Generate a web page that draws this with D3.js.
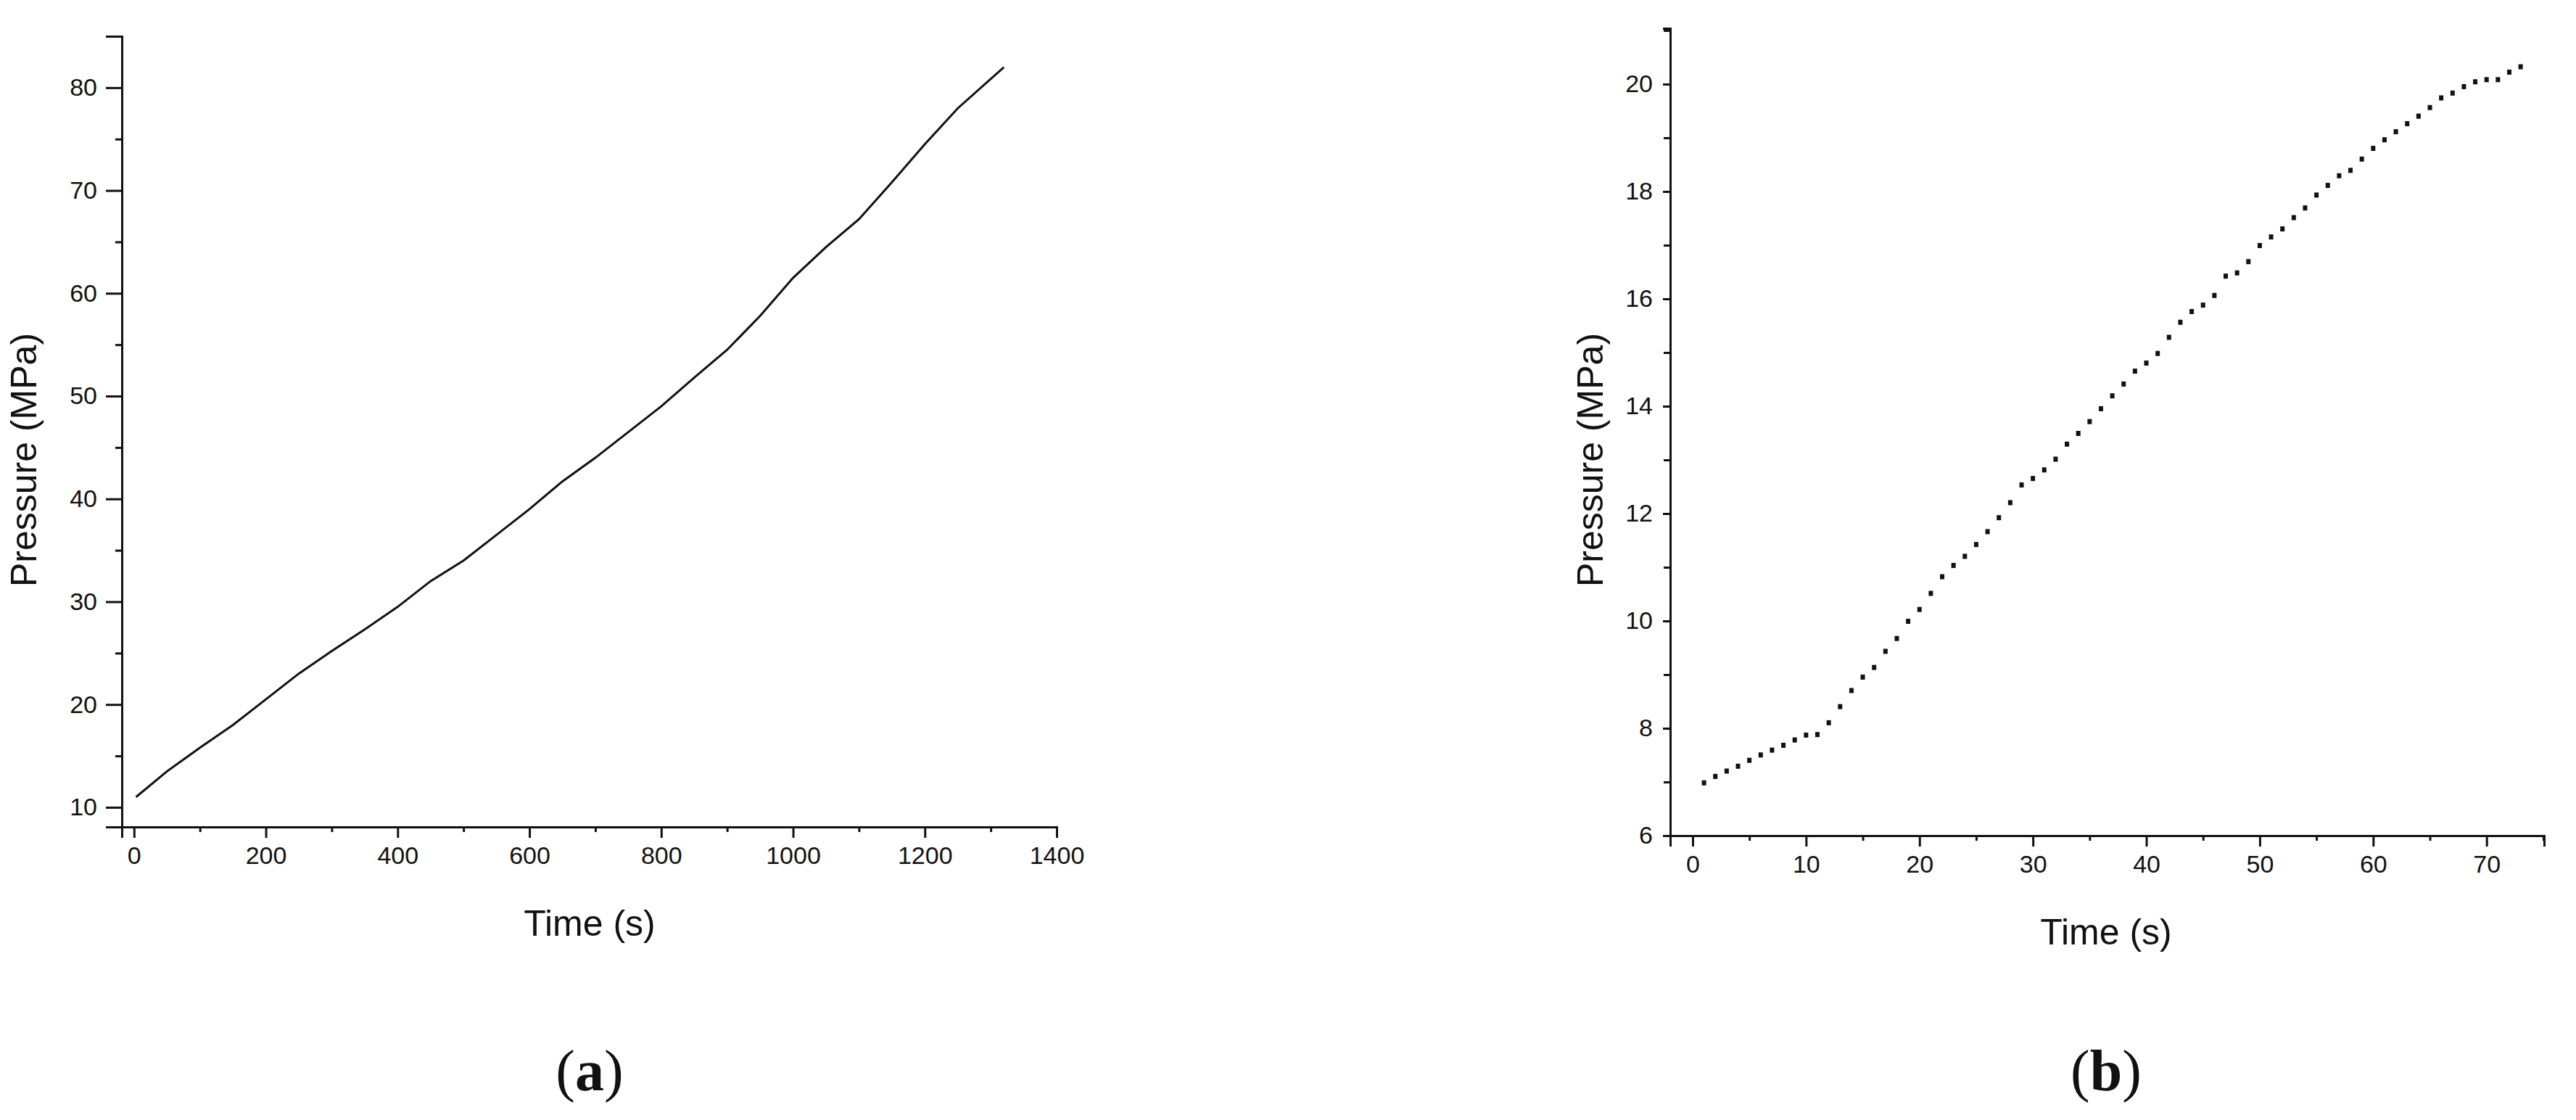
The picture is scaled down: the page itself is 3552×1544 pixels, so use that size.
<!DOCTYPE html>
<html><head><meta charset="utf-8">
<script src="https://cdn.jsdelivr.net/npm/d3@7"></script>
<style>body{margin:0;background:#fff}svg{display:block}text{font-family:"Liberation Sans",Arial,sans-serif;fill:#111}</style>
</head><body>
<svg id="c" width="3552" height="1544"></svg>
<script>
// Panel (a)
const timeA = [3,50,100,150,200,250,300,350,400,450,500,550,600,650,700,750,800,850,900,950,1000,1050,1100,1150,1200,1250,1320];
const presA = [11,13.5,15.8,18,20.5,23,25.2,27.3,29.5,32,34,36.5,39,41.7,44,46.5,49,51.8,54.5,57.8,61.5,64.5,67.2,70.8,74.5,78,82];
const xTicksA = [0,200,400,600,800,1000,1200,1400];
const yTicksA = [10,20,30,40,50,60,70,80];
// Panel (b)
const timeB = d3.range(1,74);
const presB = [6.99,7.11,7.21,7.30,7.41,7.51,7.60,7.69,7.79,7.88,7.89,8.11,8.41,8.71,8.96,9.14,9.44,9.68,10.00,10.22,10.52,10.83,11.04,11.21,11.43,11.67,11.93,12.21,12.54,12.66,12.82,13.02,13.30,13.50,13.72,13.96,14.20,14.42,14.66,14.81,14.99,15.29,15.57,15.77,15.89,16.07,16.43,16.49,16.70,17.00,17.16,17.31,17.52,17.70,17.94,18.12,18.30,18.40,18.61,18.81,18.97,19.12,19.27,19.41,19.57,19.75,19.84,19.96,20.05,20.09,20.09,20.23,20.33];
const xTicksB = [0,10,20,30,40,50,60,70];
const yTicksB = [6,8,10,12,14,16,18,20];

const svg = d3.select("#c");

function panel(o){
  const g = svg.append("g");
  const x = d3.scaleLinear().domain(o.xd).range([o.x0,o.x1]);
  const y = d3.scaleLinear().domain(o.yd).range([o.y0,o.y1]);
  const xa = d3.axisBottom(x).tickValues(o.xMinor).tickSize(7).tickFormat("");
  g.append("g").attr("transform",`translate(0,${o.y0})`).call(xa);
  const ya = d3.axisLeft(y).tickValues(o.yMinor).tickSize(9).tickFormat("");
  g.append("g").attr("transform",`translate(${o.x0},0)`).call(ya);
  const xA = d3.axisBottom(x).tickValues(o.xt).tickSize(15).tickPadding(12).tickFormat(d3.format("d"));
  g.append("g").attr("transform",`translate(0,${o.y0})`).call(xA);
  const yA = d3.axisLeft(y).tickValues(o.yt).tickSize(o.ytl).tickPadding(o.ypad).tickFormat(d3.format("d"));
  g.append("g").attr("transform",`translate(${o.x0},0)`).call(yA);
  g.selectAll(".domain").attr("stroke","#111").attr("stroke-width",3);
  g.selectAll(".tick line").attr("stroke","#111").attr("stroke-width",3);
  g.selectAll(".tick text").attr("font-size",34).attr("font-family","Liberation Sans").attr("fill","#111");
  g.append("text").attr("x",o.tx).attr("y",o.ty).attr("text-anchor","middle").attr("font-size",50).text("Time (s)");
  g.append("text").attr("transform",`translate(${o.lx},${o.ly}) rotate(-90)`).attr("text-anchor","middle").attr("font-size",50).text("Pressure (MPa)");
  g.append("text").attr("x",o.tx).attr("y",1503).attr("text-anchor","middle").attr("font-size",80)
    .style("font-family","Liberation Serif")
    .html(`(<tspan font-weight="bold">${o.cap}</tspan>)`);
  return {g,x,y};
}

const A = panel({xd:[-18.5,1400],yd:[8.09,85],x0:168,x1:1457,y0:1140,y1:50,
  xt:xTicksA,yt:yTicksA,xMinor:d3.range(100,1400,200),yMinor:d3.range(15,85,5).filter(v=>v%10),
  ytl:22,ypad:12,tx:813,ty:1290,lx:50,ly:634,cap:"a"});
A.g.append("path").datum(timeA.map((t,i)=>[t,presA[i]]))
  .attr("fill","none").attr("stroke","#111").attr("stroke-width",3)
  .attr("d",d3.line().x(d=>A.x(d[0])).y(d=>A.y(d[1])));

const B = panel({xd:[-1.98,75.07],yd:[6,21.04],x0:2303,x1:3508,y0:1152,y1:39,
  xt:xTicksB,yt:yTicksB,xMinor:d3.range(5,80,10),yMinor:d3.range(7,22,2),
  ytl:10,ypad:14,tx:2904,ty:1302,lx:2210,ly:634,cap:"b"});
B.g.selectAll("rect.pt").data(timeB.map((t,i)=>[t,presB[i]])).join("rect")
  .attr("class","pt").attr("x",d=>B.x(d[0])-3).attr("y",d=>B.y(d[1])-3)
  .attr("width",6).attr("height",7).attr("fill","#111");
</script>
</body></html>
